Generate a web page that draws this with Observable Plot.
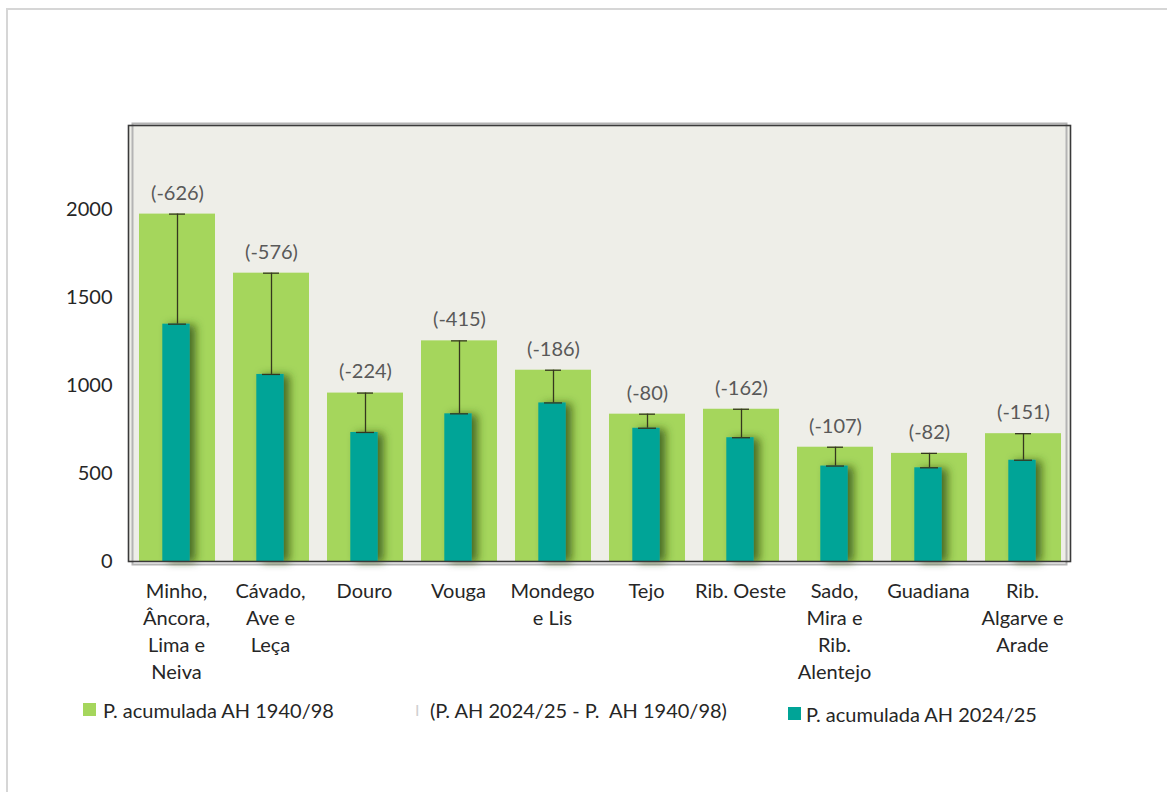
<!DOCTYPE html>
<html>
<head>
<meta charset="utf-8">
<script src="https://cdn.jsdelivr.net/npm/d3@7"></script>
<script src="https://cdn.jsdelivr.net/npm/@observablehq/plot@0.6"></script>
<style>
  body { margin: 0; background: #fff; font-family: Lato, "Open Sans", sans-serif; }
  #wrap { position: relative; width: 1167px; height: 792px; overflow: hidden; background: #fff; }
  #border { position: absolute; left: 6px; top: 8px; width: 1300px; height: 900px;
            border-left: 2px solid #d6d6d6; border-top: 2px solid #d6d6d6; pointer-events: none; }
  #chart { position: absolute; left: 0; top: 0; }
  .leg { position: absolute; font-size: 20px; line-height: 20px; color: #262626; white-space: pre; }
  .sw { position: absolute; width: 13px; height: 13px; }
</style>
</head>
<body>
<div id="wrap">
  <div id="border"></div>
  <div id="chart"></div>
  <div id="legend"></div>
</div>
<script>
// ---- data ----
const categories = [
  "Minho,\nÂncora,\nLima e\nNeiva",
  "Cávado,\nAve e\nLeça",
  "Douro",
  "Vouga",
  "Mondego\ne Lis",
  "Tejo",
  "Rib. Oeste",
  "Sado,\nMira e\nRib.\nAlentejo",
  "Guadiana",
  "Rib.\nAlgarve e\nArade"
];
const accumulated194098 = [1976, 1640, 958, 1255, 1088, 838, 866, 650, 615, 727];
const accumulated202425 = [1350, 1064, 734, 840, 902, 758, 704, 543, 533, 576];
const differences = [-626, -576, -224, -415, -186, -80, -162, -107, -82, -151];
const yTicks = [0, 500, 1000, 1500, 2000];
const legendLabels = ["P. acumulada AH 1940/98", "(P. AH 2024/25 - P.  AH 1940/98)", "P. acumulada AH 2024/25"];

const GREEN = "#a5d65c";
const TEAL = "#00a497";

const data = categories.map((c, i) => ({
  cat: c, green: accumulated194098[i], teal: accumulated202425[i], diff: differences[i]
}));

const chart = Plot.plot({
  width: 1167,
  height: 690,
  marginLeft: 128,
  marginRight: 97,
  marginTop: 125,
  marginBottom: 129,
  style: { fontFamily: "Lato, 'Open Sans', sans-serif", fontSize: "20px", color: "#262626", background: "transparent" },
  x: { domain: categories, padding: 0, label: null },
  y: { domain: [0, 2480], label: null },
  marks: [
    Plot.frame({ fill: "#eeeee8" }),
    Plot.frame({ stroke: "#b4b4b4", strokeWidth: 2, insetLeft: 4, insetRight: 4, insetTop: -2, insetBottom: -3 }),
    Plot.barY(data, { x: "cat", y: "green", fill: GREEN, insetLeft: 10, insetRight: 8 }),
    Plot.barY(data, { x: "cat", y: "teal", fill: TEAL, insetLeft: 33.3, insetRight: 33.3 }),
    Plot.ruleX(data, { x: "cat", y1: "teal", y2: "green", stroke: "#35371f", strokeWidth: 1.3, dx: 1 }),
    Plot.tickY(data, { x: "cat", y: "green", stroke: "#35371f", strokeWidth: 1.3, insetLeft: 40, insetRight: 38 }),
    Plot.tickY(data, { x: "cat", y: "teal", stroke: "#35371f", strokeWidth: 1.3, insetLeft: 39, insetRight: 37 }),
    Plot.text(data, { x: "cat", y: "green", text: d => `(${d.diff})`, dy: -21, dx: 1, fill: "#595959", fontSize: 20 }),
    Plot.axisY({ ticks: yTicks, tickFormat: d => String(d), tickSize: 0, tickPadding: 16, fontSize: 20, fill: "#262626" }),
    Plot.axisX({ tickSize: 0, tickPadding: 18, lineHeight: 1.335, fontSize: 20, fill: "#262626" }),
    Plot.frame({ stroke: "#3a3a3a", strokeWidth: 1.6 })
  ]
});

// drop shadow on the teal bars
const svg = d3.select(chart);
const defs = svg.insert("defs", ":first-child");
const f = defs.append("filter").attr("id", "tealShadow").attr("x", "-20%").attr("y", "-5%").attr("width", "160%").attr("height", "110%");
f.append("feDropShadow").attr("dx", 6).attr("dy", 1).attr("stdDeviation", 4)
  .attr("flood-color", "#2f4a10").attr("flood-opacity", 0.75);
svg.selectAll(`g[fill="${TEAL}"]`).attr("filter", "url(#tealShadow)");

document.getElementById("chart").appendChild(chart);

// legend
const legend = document.getElementById("legend");
const items = [
  { sw: GREEN, swX: 83, swY: 703, tx: 103, ty: 700, label: legendLabels[0] },
  { sw: null, swX: 415, swY: 700, tx: 430, ty: 700, label: legendLabels[1] },
  { sw: TEAL, swX: 788, swY: 707, tx: 806, ty: 704, label: legendLabels[2] }
];
items.forEach(it => {
  if (it.sw) {
    const s = document.createElement("div");
    s.className = "sw";
    s.style.left = it.swX + "px"; s.style.top = it.swY + "px"; s.style.background = it.sw;
    legend.appendChild(s);
  } else {
    const s = document.createElement("div");
    s.className = "leg";
    s.style.left = it.swX + "px"; s.style.top = it.swY + "px"; s.style.color = "#d0d0d0";
    s.style.fontSize = "16px";
    s.textContent = "I";
    legend.appendChild(s);
  }
  const t = document.createElement("div");
  t.className = "leg";
  t.style.left = it.tx + "px"; t.style.top = it.ty + "px";
  t.textContent = it.label;
  legend.appendChild(t);
});
</script>
</body>
</html>
